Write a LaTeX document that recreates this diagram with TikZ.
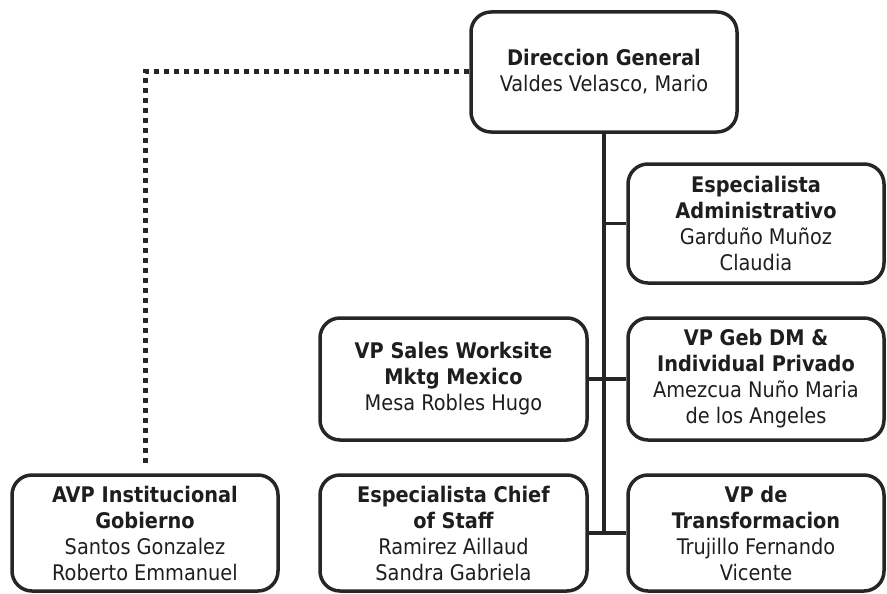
\documentclass[tikz,border=0pt]{standalone}
\usepackage{fontspec}
\setmainfont{DejaVu Sans Condensed}
\usetikzlibrary{calc}
\definecolor{boxc}{HTML}{262626}
\definecolor{txt}{HTML}{1E1E1E}
\begin{document}
\begin{tikzpicture}[x=1pt,y=-1pt,
 box/.style={draw=boxc, line width=3.5pt, rounded corners=20pt, align=center, inner sep=0pt, text=txt, font=\fontsize{21.5}{26}\selectfont, anchor=center},
 link/.style={draw=boxc, line width=3.5pt},
 dots/.style={draw=boxc, line width=5pt, dash pattern=on 5pt off 5pt}]
\useasboundingbox (0,0) rectangle (887,594);
\node[box, minimum width=266pt, minimum height=120pt] (dir) at (604,72) {\textbf{Direccion General}\\Valdes Velasco, Mario};
\node[box, minimum width=256pt, minimum height=119pt] (espadm) at (756,223.5) {\textbf{Especialista}\\\textbf{Administrativo}\\Garduño Muñoz\\Claudia};
\node[box, minimum width=267pt, minimum height=122pt] (vpsales) at (453.5,379) {\textbf{VP Sales Worksite}\\\textbf{Mktg Mexico}\\Mesa Robles Hugo};
\node[box, minimum width=256pt, minimum height=122pt] (vpgeb) at (756,379) {\textbf{VP Geb DM \&}\\\textbf{Individual Privado}\\Amezcua Nuño Maria\\de los Angeles};
\node[box, minimum width=266pt, minimum height=116pt] (avp) at (145,533) {\textbf{AVP Institucional}\\\textbf{Gobierno}\\Santos Gonzalez\\Roberto Emmanuel};
\node[box, minimum width=267pt, minimum height=116pt] (chief) at (453.5,533) {\textbf{Especialista Chief}\\\textbf{of Staff}\\Ramirez Aillaud\\Sandra Gabriela};
\node[box, minimum width=256pt, minimum height=116pt] (transf) at (756,533) {\textbf{VP de}\\\textbf{Transformacion}\\Trujillo Fernando\\Vicente};
\draw[link] (dir.south) -- (dir.south |- chief.east);
\draw[link] (espadm.west) -- (espadm.west -| dir.south);
\draw[link] (vpsales.east) -- (vpgeb.west);
\draw[link] (chief.east) -- (transf.west);
\draw[dots, shorten >=9pt] (dir.west) -| (avp.north);
\end{tikzpicture}
\end{document}
